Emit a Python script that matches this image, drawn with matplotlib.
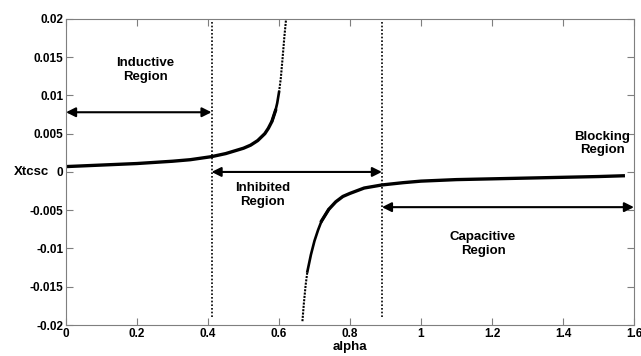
import numpy as np
import matplotlib
matplotlib.use("Agg")
from matplotlib import pyplot as plt

plt.rcParams['font.family'] = ['Liberation Sans', 'DejaVu Sans']
plt.rcParams['font.weight'] = 'bold'

# inductive branch (alpha, Xtcsc)
alpha_ind = [0.0, 0.1, 0.2, 0.3, 0.35, 0.41, 0.45, 0.5, 0.52, 0.54, 0.56, 0.57,
             0.58, 0.59, 0.595, 0.6, 0.605, 0.61, 0.615, 0.62]
x_ind = [0.0007, 0.0009, 0.0011, 0.0014, 0.0016, 0.0020, 0.0024, 0.0031, 0.0035,
         0.0041, 0.0050, 0.0057, 0.0066, 0.0080, 0.0090, 0.0104, 0.0122, 0.0148,
         0.0176, 0.0200]

# capacitive branch
alpha_cap = [0.666, 0.67, 0.675, 0.68, 0.69, 0.70, 0.71, 0.72, 0.74, 0.76, 0.78,
             0.80, 0.84, 0.89, 0.95, 1.0, 1.1, 1.2, 1.3, 1.4, 1.5, 1.57]
x_cap = [-0.0195, -0.0172, -0.0148, -0.0130, -0.0108, -0.0090, -0.0076, -0.0064,
         -0.0049, -0.0039, -0.0032, -0.0028, -0.0021, -0.0017, -0.0014, -0.0012,
         -0.0010, -0.0009, -0.0008, -0.0007, -0.0006, -0.0005]

bounds = [0.41, 0.89]

fig = plt.figure(figsize=(6.41, 3.56), dpi=100)
ax = fig.add_axes([0.103, 0.087, 0.886, 0.86])

# thick where the points are dense, thinner near the asymptote
ax.plot(alpha_ind[:14], x_ind[:14], color='black', lw=2.4)
ax.plot(alpha_ind[12:16], x_ind[12:16], color='black', lw=1.9)
ax.plot(alpha_ind[15:], x_ind[15:], color='black', lw=1.5, ls=(0, (1, 0.6)))
ax.plot(alpha_cap[7:], x_cap[7:], color='black', lw=2.4)
ax.plot(alpha_cap[3:9], x_cap[3:9], color='black', lw=1.9)
ax.plot(alpha_cap[:4], x_cap[:4], color='black', lw=1.5, ls=(0, (1, 0.6)))

for b in bounds:
    ax.plot([b, b], [-0.019, 0.02], color='black', lw=1.2, ls=(0, (1, 1.2)))

arrow = dict(arrowstyle='<|-|>', color='black', lw=1.5, mutation_scale=14,
             shrinkA=0, shrinkB=0)
ax.annotate('', xy=(0.0, 0.0078), xytext=(bounds[0], 0.0078), arrowprops=arrow)
ax.annotate('', xy=(bounds[0], 0.0), xytext=(bounds[1], 0.0), arrowprops=arrow)
ax.annotate('', xy=(bounds[1], -0.0046), xytext=(1.6, -0.0046), arrowprops=arrow)

tkw = dict(ha='center', va='center', fontsize=9.5, fontweight='bold', linespacing=1.15)
ax.text(0.223, 0.0133, 'Inductive\nRegion', **tkw)
ax.text(0.554, -0.003, 'Inhibited\nRegion', **tkw)
ax.text(1.175, -0.0094, 'Capacitive\nRegion', **tkw)
ax.text(1.51, 0.0037, 'Blocking\nRegion', **tkw)

ax.set_xlim(0, 1.6)
ax.set_ylim(-0.02, 0.02)
ax.set_xticks([0, 0.2, 0.4, 0.6, 0.8, 1, 1.2, 1.4, 1.6])
ax.set_xticklabels(['0', '0.2', '0.4', '0.6', '0.8', '1', '1.2', '1.4', '1.6'])
ax.set_yticks([-0.02, -0.015, -0.01, -0.005, 0, 0.005, 0.01, 0.015, 0.02])
ax.set_yticklabels(['-0.02', '-0.015', '-0.01', '-0.005', '0', '0.005', '0.01', '0.015', '0.02'])
ax.tick_params(direction='in', top=True, right=True, length=5, color='#7f7f7f',
               labelsize=8.5, pad=2)
for s in ax.spines.values():
    s.set_color('#7f7f7f')

ax.set_xlabel('alpha', fontsize=9.5, fontweight='bold', labelpad=1)
ax.set_ylabel('Xtcsc', fontsize=9.5, fontweight='bold', rotation=0, va='center')
ax.yaxis.set_label_coords(-0.06, 0.5)

fig.savefig('out.png', dpi=100)
